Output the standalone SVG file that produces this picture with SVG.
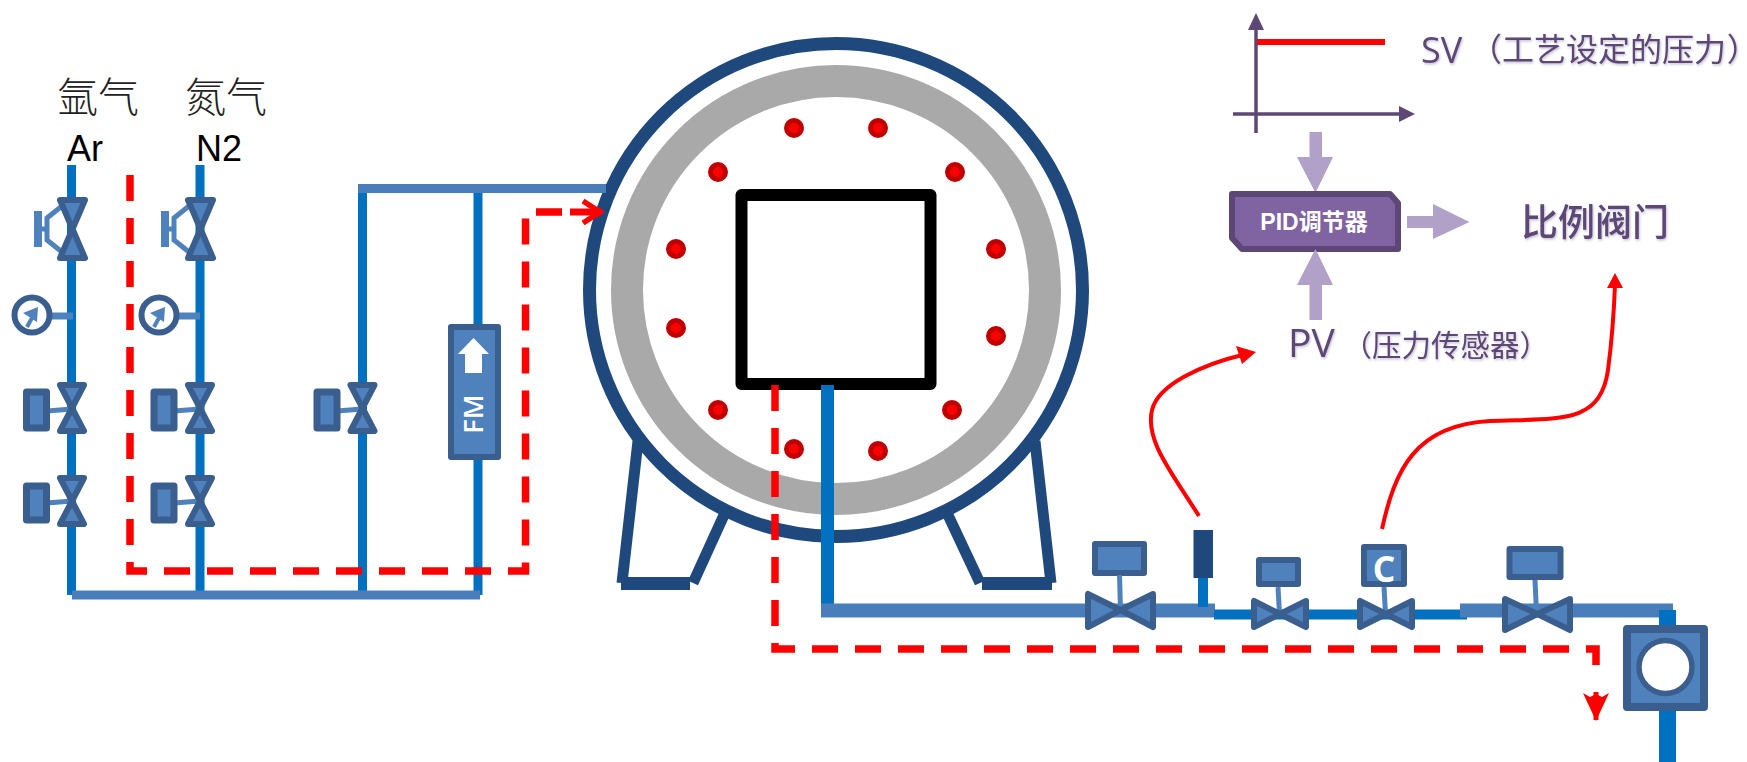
<svg xmlns="http://www.w3.org/2000/svg" width="1747" height="762" viewBox="0 0 1747 762">
<style>
.p1{stroke:#0070C0;fill:none}
.p2{stroke:#4A7EBB;fill:none}
.v{fill:#4F81BD;stroke:#3A5F8F;stroke-linejoin:round}
.stem{stroke:#4F81BD;fill:none}
.tank{stroke:#1F497D;fill:none;stroke-width:13}
.dot{fill:#FF0000;stroke:#C00000;stroke-width:5}
.dash{stroke:#FF0000;stroke-width:7.5;fill:none;stroke-dasharray:26 17}
.red{stroke:#FF0000;stroke-width:4;fill:none}
.big{fill:#B1A0C7}
.axis{stroke:#5C4776;stroke-width:3.5;fill:none}
.pt{fill:#5C4776;font-family:"Open Sans","Noto Sans CJK SC",sans-serif;filter:url(#soft)}
.cjk{fill:#5C4776;font-family:"Noto Sans CJK SC",sans-serif;filter:url(#soft)}
.gas{fill:#222;font-family:"Noto Sans CJK SC",sans-serif;font-size:41px;font-weight:300}
.lab{fill:#000;font-family:"Liberation Sans",sans-serif;font-size:36px}
</style>
<defs>
<filter id="soft" x="-5%" y="-20%" width="110%" height="150%"><feDropShadow dx="1" dy="1.500" stdDeviation="1" flood-color="#5C4776" flood-opacity="0.35"/></filter>
<g id="vbow"><path class="v" stroke-width="6" d="M-12,-23H12L0,0L12,23H-12L0,0Z"/></g>
<g id="gaugeIn"><polygon points="38,307 23,313 37,322" fill="#4F81BD"/><line x1="27" y1="327" x2="33" y2="316" stroke="#4F81BD" stroke-width="4"/></g>
<marker id="openHead" markerUnits="userSpaceOnUse" markerWidth="26" markerHeight="30" refX="22" refY="14" orient="auto"><path d="M3,3L20,14L3,25" fill="none" stroke="#FF0000" stroke-width="5.500"/></marker>
</defs>

<g id="tank">
<circle class="tank" cx="836" cy="290" r="246.5"/>
<circle cx="836" cy="290" r="209" fill="none" stroke="#A9A9A9" stroke-width="32"/>
<path class="tank" d="M638,441L622,583M724,515L693,583M1035,441L1051,583M948,515L980,583" style="stroke-width:11"/>
<rect x="621" y="577" width="69" height="13" fill="#1F497D"/>
<rect x="982" y="577" width="70" height="13" fill="#1F497D"/>
<rect x="741.500" y="195" width="189" height="189" fill="#fff" stroke="#000" stroke-width="12" stroke-linejoin="round"/>
<g id="heaters">
<circle class="dot" cx="794" cy="128" r="7.5"/><circle class="dot" cx="878" cy="128" r="7.5"/>
<circle class="dot" cx="718" cy="172" r="7.5"/><circle class="dot" cx="955" cy="172" r="7.5"/>
<circle class="dot" cx="676" cy="249" r="7.5"/><circle class="dot" cx="996" cy="249" r="7.5"/>
<circle class="dot" cx="676" cy="328" r="7.5"/><circle class="dot" cx="996" cy="336" r="7.5"/>
<circle class="dot" cx="718" cy="410" r="7.5"/><circle class="dot" cx="952" cy="410" r="7.5"/>
<circle class="dot" cx="794" cy="449" r="7.5"/><circle class="dot" cx="878" cy="451" r="7.5"/>
</g>
</g>

<g id="connectors">
<path class="p1" stroke-width="9" d="M71.500,165V595M200,165V595M362.500,189V595M478,189V595"/>
<path class="p2" stroke-width="9" d="M72,595H480M358,188.500H606"/>
<path class="p1" stroke-width="13" d="M827.500,385V611"/>
<path class="p2" stroke-width="14" d="M821,610.500H1215"/>
<path class="p1" stroke-width="10" d="M1214,614.500H1467M1203,578V607"/>
<path class="p2" stroke-width="14" d="M1460,610.500H1673"/>
<path class="p1" stroke-width="17" d="M1667.500,610V762"/>
<path class="dash" d="M130,175V571H525.500V212H574"/>
<path d="M570,212H602" stroke="#FF0000" stroke-width="7" marker-end="url(#openHead)"/>
<path class="dash" d="M775,385V649H1596V680"/>
<path d="M1596,692V720" stroke="#FF0000" stroke-width="5"/>
<polygon points="1583,693 1590,697 1596,694 1602,697 1609,693 1596,721" fill="#FF0000"/>
<path class="red" d="M1199,516C1170,470 1145,440 1152,410C1158,385 1200,365 1246,354"/>
<polygon points="1256,352 1236,346 1242,364" fill="#FF0000"/>
<path class="red" d="M1382,529C1395,470 1415,425 1490,421C1560,418 1600,425 1608,370C1612,340 1614,310 1615,285"/>
<polygon points="1615,273 1607,288 1623,288" fill="#FF0000"/>
</g>

<g id="label-ar"><text class="gas" x="57" y="112">氩气</text><text class="lab" x="67" y="161">Ar</text></g>
<g id="label-n2"><text class="gas" x="185" y="112">氮气</text><text class="lab" x="196" y="161">N2</text></g>

<g id="hand-valve-ar"><path class="stem" stroke-width="5" d="M42,229H47M62,206L47,218V240L62,252"/><rect x="34" y="211" width="8" height="36" fill="#4F81BD"/><path class="v" stroke-width="6" d="M60,200H85L72.500,229L85,258H60L72.500,229Z"/></g>
<g id="hand-valve-n2"><path class="stem" stroke-width="5" d="M169,229H174M189,206L174,218V240L189,252"/><rect x="161" y="211" width="8" height="36" fill="#4F81BD"/><path class="v" stroke-width="6" d="M188,200H213L200.500,229L213,258H188L200.500,229Z"/></g>

<g id="gauge-ar"><line x1="48" y1="316" x2="73" y2="316" stroke="#4F81BD" stroke-width="7"/><circle cx="32" cy="315" r="17.500" fill="#fff" stroke="#3A5F8F" stroke-width="6"/><use href="#gaugeIn"/></g>
<g id="gauge-n2"><line x1="175" y1="316" x2="200" y2="316" stroke="#4F81BD" stroke-width="7"/><circle cx="159" cy="315" r="17.500" fill="#fff" stroke="#3A5F8F" stroke-width="6"/><use href="#gaugeIn" x="127"/></g>

<g id="valve-ar-1"><line class="stem" x1="47" y1="411" x2="72" y2="409" stroke-width="5"/><rect class="v" stroke-width="7" x="26.500" y="392" width="20" height="36"/><use href="#vbow" x="72" y="408"/></g>
<g id="valve-ar-2"><line class="stem" x1="47" y1="503" x2="72" y2="501" stroke-width="5"/><rect class="v" stroke-width="7" x="26.500" y="486" width="20" height="34"/><use href="#vbow" x="72" y="501"/></g>
<g id="valve-n2-1"><line class="stem" x1="174" y1="411" x2="200" y2="409" stroke-width="5"/><rect class="v" stroke-width="7" x="154" y="392" width="20" height="36"/><use href="#vbow" x="200" y="408"/></g>
<g id="valve-n2-2"><line class="stem" x1="174" y1="503" x2="200" y2="501" stroke-width="5"/><rect class="v" stroke-width="7" x="154" y="486" width="20" height="34"/><use href="#vbow" x="200" y="501"/></g>
<g id="valve-bypass"><line class="stem" x1="337" y1="411" x2="362" y2="409" stroke-width="5"/><rect class="v" stroke-width="7" x="317" y="392" width="20" height="36"/><use href="#vbow" x="362.500" y="408"/></g>

<g id="flowmeter"><rect class="v" stroke-width="6" x="451" y="327" width="47" height="130"/><polygon fill="#fff" points="473.500,338 489,354 482,354 482,373 465,373 465,354 458,354"/><text transform="translate(483,414) rotate(-90)" text-anchor="middle" font-family="Open Sans,sans-serif" font-weight="600" font-size="27" fill="#fff">FM</text></g>

<g id="valve-1"><rect class="v" stroke-width="6" x="1095" y="544" width="49" height="29"/><line class="stem" x1="1119.500" y1="575" x2="1120.500" y2="610" stroke-width="5"/><path class="v" stroke-width="6" d="M1088,594V627L1120.500,610L1153,627V594L1120.500,610Z"/></g>
<g id="pressure-sensor"><rect x="1193.500" y="530" width="19.500" height="48" fill="#1F497D"/></g>
<g id="valve-2"><rect class="v" stroke-width="6" x="1259" y="560" width="39" height="24"/><line class="stem" x1="1278" y1="587" x2="1279.500" y2="614" stroke-width="5"/><path class="v" stroke-width="6" d="M1254,601V627L1280,614L1306,627V601L1280,614Z"/></g>
<g id="valve-c"><rect class="v" stroke-width="6" x="1364" y="547" width="40" height="37"/><line class="stem" x1="1384" y1="587" x2="1385.500" y2="614" stroke-width="5"/><path class="v" stroke-width="6" d="M1360,601V627L1386,614L1412,627V601L1386,614Z"/><text x="1384" y="582" text-anchor="middle" font-family="Noto Sans,sans-serif" font-weight="700" font-size="35" fill="#fff">C</text></g>
<g id="valve-4"><rect class="v" stroke-width="6" x="1509.500" y="549" width="51" height="28"/><line class="stem" x1="1535" y1="580" x2="1536.500" y2="613" stroke-width="5"/><path class="v" stroke-width="6" d="M1505,599V630L1537.500,614L1570,630V599L1537.500,614Z"/></g>

<g id="pump"><rect class="v" stroke-width="8" x="1627" y="629" width="77" height="78"/><circle cx="1665.500" cy="667" r="26.500" fill="#fff" stroke="#3A5F8F" stroke-width="5.500"/></g>

<g id="chart">
<line class="axis" x1="1256" y1="26" x2="1256" y2="133"/>
<polygon fill="#5C4776" points="1256,13 1248,30 1264,30"/>
<line class="axis" x1="1233" y1="114" x2="1400" y2="114"/>
<polygon fill="#5C4776" points="1415,114 1399,106 1399,122"/>
<line x1="1257" y1="42" x2="1385" y2="42" stroke="#FF0000" stroke-width="6"/>
</g>
<g id="label-sv"><text class="pt" x="1421" y="63" font-size="36">SV</text><text class="cjk" x="1470" y="61" font-size="32">（工艺设定的压力<tspan x="1728" style="font-feature-settings:'palt'">）</tspan></text></g>
<g id="arrow-sv-pid"><polygon class="big" points="1309.500,132 1322,132 1322,157 1333,157 1315.500,193 1297,157 1309.500,157"/></g>
<g id="pid"><path d="M1232,194H1390L1398,203V249H1242L1232,238Z" fill="#8064A2" stroke="#5C4776" stroke-width="6" stroke-linejoin="round"/><text x="1314" y="230" text-anchor="middle" font-family="Liberation Sans,Noto Sans CJK SC,sans-serif" font-weight="700" font-size="23" fill="#fff">PID调节器</text></g>
<g id="arrow-pid-valve"><polygon class="big" points="1407,216 1433,216 1433,204 1469.500,222 1433,239 1433,228 1407,228"/></g>
<g id="arrow-pv-pid"><polygon class="big" points="1315.500,249 1333,285 1322,285 1322,320 1309.500,320 1309.500,285 1297,285"/></g>
<g id="label-valve"><text class="cjk" x="1521" y="236" font-size="37" font-weight="500">比例阀门</text></g>
<g id="label-pv"><text class="pt" x="1288" y="357" font-size="39">PV</text><text class="cjk" x="1342.500" y="356" font-size="29.500">（压力传感器）</text></g>
</svg>
